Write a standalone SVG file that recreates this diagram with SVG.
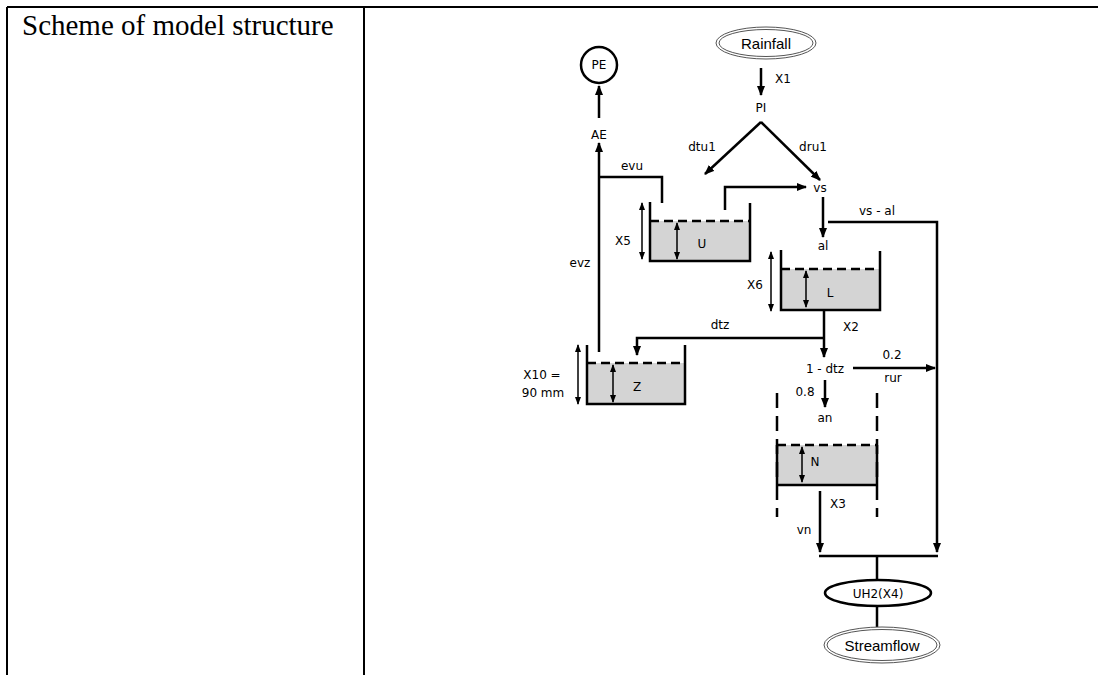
<svg xmlns="http://www.w3.org/2000/svg" width="1098" height="675" viewBox="0 0 1098 675">
<defs>
<marker id="ah" markerUnits="userSpaceOnUse" markerWidth="10" markerHeight="8" refX="9" refY="4" orient="auto-start-reverse"><path d="M0,0 L10,4 L0,8 z" fill="#000"/></marker>
<marker id="ahs" markerUnits="userSpaceOnUse" markerWidth="8" markerHeight="6" refX="7" refY="3" orient="auto-start-reverse"><path d="M0,0 L8,3 L0,6 z" fill="#000"/></marker>
</defs>
<style>
.frame{stroke:#000;stroke-width:2;fill:none}
.ln{stroke:#000;stroke-width:2.5;fill:none}
.arr{stroke:#000;stroke-width:2.5;fill:none;marker-end:url(#ah)}
.dbl{stroke:#000;stroke-width:1.5;fill:none;marker-start:url(#ahs);marker-end:url(#ahs)}
.wall{stroke:#000;stroke-width:2.5;fill:none}
.water{fill:#d4d4d4;stroke:none}
.dash{stroke:#000;stroke-width:2.5;stroke-dasharray:9 5;fill:none}
.lbl{font-family:"DejaVu Sans",sans-serif;font-size:12px;fill:#000;text-anchor:middle}
.big{font-family:"Liberation Sans",Arial,sans-serif;font-size:15px;fill:#000;text-anchor:middle}
.title{font-family:"Liberation Serif","Times New Roman",serif;font-size:29px;fill:#000}
.dell{fill:#fff;stroke:#555;stroke-width:1}
</style>
<g id="table">
<line class="frame" x1="7" y1="7" x2="1098" y2="7"/>
<line class="frame" x1="7" y1="7" x2="7" y2="675"/>
<line class="frame" x1="364" y1="7" x2="364" y2="675"/>
<text class="title" x="22" y="35">Scheme of model structure</text>
</g>
<g id="connectors">
<line class="arr" x1="761" y1="68" x2="761" y2="95"/>
<line class="arr" x1="761" y1="122" x2="705" y2="174"/>
<line class="arr" x1="761" y1="122" x2="820" y2="180"/>
<line class="arr" x1="599" y1="118" x2="599" y2="86"/>
<line class="arr" x1="599" y1="352" x2="599" y2="143"/>
<polyline class="ln" points="599,177 662,177 662,203"/>
<polyline class="arr" points="725,210 725,187 806,187"/>
<line class="arr" x1="823" y1="197" x2="823" y2="237"/>
<polyline class="arr" points="828,222 937,222 937,552"/>
<line class="arr" x1="824" y1="310" x2="824" y2="357"/>
<polyline class="arr" points="824,338 637,338 637,355"/>
<line class="arr" x1="853" y1="368" x2="935" y2="368"/>
<line class="arr" x1="825" y1="380" x2="825" y2="407"/>
<line class="arr" x1="820" y1="491" x2="820" y2="552"/>
<line class="ln" x1="819" y1="556" x2="938" y2="556"/>
<line class="ln" x1="877" y1="556" x2="877" y2="580"/>
<line class="ln" x1="877" y1="606" x2="877" y2="627"/>
</g>
<g id="rainfall">
<ellipse class="dell" cx="766" cy="43" rx="50" ry="16"/>
<ellipse cx="766" cy="43" rx="47" ry="13.5" fill="none" stroke="#555" stroke-width="1"/>
<text class="big" x="766" y="49">Rainfall</text>
</g>
<g id="pe">
<circle cx="599" cy="65" r="18" fill="#fff" stroke="#000" stroke-width="2.5"/>
<text class="lbl" x="599" y="69">PE</text>
</g>
<g id="labels">
<text class="lbl" x="783" y="83">X1</text>
<text class="lbl" x="761" y="112">PI</text>
<text class="lbl" x="702" y="151">dtu1</text>
<text class="lbl" x="813" y="151">dru1</text>
<text class="lbl" x="599" y="139">AE</text>
<text class="lbl" x="632" y="170">evu</text>
<text class="lbl" x="580" y="267">evz</text>
<text class="lbl" x="820" y="192">vs</text>
<text class="lbl" x="877" y="215">vs - al</text>
<text class="lbl" x="823" y="250">al</text>
<text class="lbl" x="851" y="331">X2</text>
<text class="lbl" x="720" y="329">dtz</text>
<text class="lbl" x="825" y="373">1 - dtz</text>
<text class="lbl" x="892" y="359">0.2</text>
<text class="lbl" x="893" y="382">rur</text>
<text class="lbl" x="805" y="396">0.8</text>
<text class="lbl" x="825" y="422">an</text>
<text class="lbl" x="838" y="508">X3</text>
<text class="lbl" x="804" y="534">vn</text>
</g>
<g id="tank-u">
<rect class="water" x="650" y="221" width="100" height="40"/>
<line class="dash" x1="650" y1="221" x2="750" y2="221"/>
<polyline class="wall" points="650,202 650,261 750,261 750,203"/>
<line class="dbl" x1="677" y1="223" x2="677" y2="259"/>
<line class="dbl" x1="642" y1="203" x2="642" y2="259"/>
<text class="lbl" x="623" y="245">X5</text>
<text class="lbl" x="702" y="248">U</text>
</g>
<g id="tank-l">
<rect class="water" x="781" y="269" width="99" height="41"/>
<line class="dash" x1="781" y1="269" x2="880" y2="269"/>
<polyline class="wall" points="781,250 781,310 880,310 880,251"/>
<line class="dbl" x1="806" y1="271" x2="806" y2="307"/>
<line class="dbl" x1="771" y1="252" x2="771" y2="311"/>
<text class="lbl" x="755" y="289">X6</text>
<text class="lbl" x="830" y="297">L</text>
</g>
<g id="tank-z">
<rect class="water" x="587" y="363" width="98" height="41"/>
<line class="dash" x1="587" y1="363" x2="685" y2="363"/>
<polyline class="wall" points="587,345 587,404 685,404 685,345"/>
<line class="dbl" x1="613" y1="365" x2="613" y2="402"/>
<line class="dbl" x1="578" y1="345" x2="578" y2="404"/>
<text class="lbl" x="542" y="379">X10 =</text>
<text class="lbl" x="543" y="397">90 mm</text>
<text class="lbl" x="637" y="391">Z</text>
</g>
<g id="tank-n">
<rect class="water" x="777" y="445" width="100" height="40"/>
<line class="dash" x1="777" y1="445" x2="877" y2="445"/>
<line class="ln" x1="777" y1="485" x2="877" y2="485"/>
<line class="wall" x1="777" y1="393" x2="777" y2="517" stroke-dasharray="15 8"/>
<line class="wall" x1="877" y1="393" x2="877" y2="517" stroke-dasharray="15 8"/>
<line class="wall" x1="777" y1="445" x2="777" y2="485"/>
<line class="wall" x1="877" y1="445" x2="877" y2="485"/>
<line class="dbl" x1="802" y1="447" x2="802" y2="482"/>
<text class="lbl" x="815" y="466">N</text>
</g>
<g id="uh2">
<ellipse cx="878" cy="593" rx="53" ry="13" fill="#fff" stroke="#000" stroke-width="2.5"/>
<text class="lbl" x="878" y="598">UH2(X4)</text>
</g>
<g id="streamflow">
<ellipse class="dell" cx="882" cy="645" rx="58" ry="18"/>
<ellipse cx="882" cy="645" rx="55" ry="15.5" fill="none" stroke="#555" stroke-width="1"/>
<text class="big" x="882" y="651">Streamflow</text>
</g>
</svg>
